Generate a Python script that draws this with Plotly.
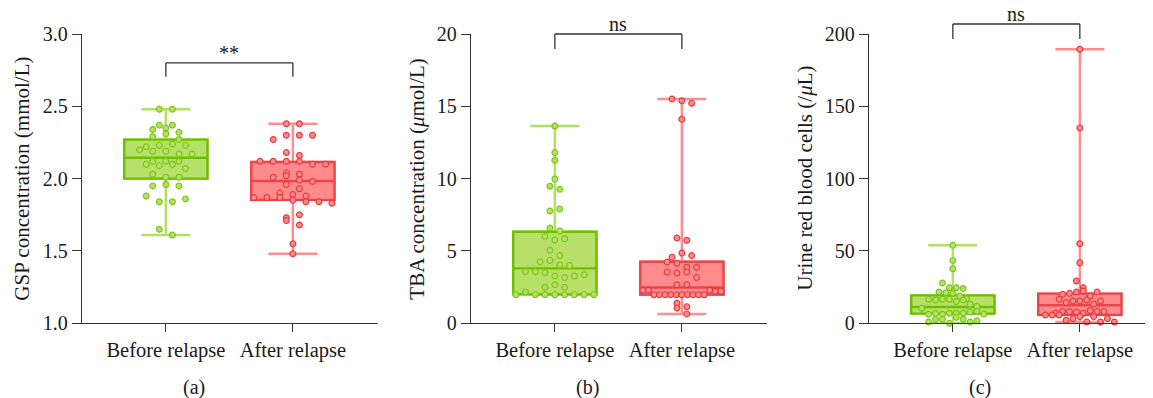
import numpy as np
import plotly.graph_objects as go

# ---------------- data ----------------
categories = ["Before relapse", "After relapse"]

gsp_before = [2.48, 2.48, 2.34, 2.35, 2.37, 2.37, 2.29, 2.31, 2.32, 2.27,
              2.20, 2.19, 2.22, 2.23, 2.24, 2.23, 2.19, 2.17, 2.17, 2.12,
              2.12, 2.12, 2.10, 2.09, 2.10, 2.07, 2.03, 2.01, 2.01, 1.95,
              1.96, 1.95, 1.88, 1.84, 1.84, 1.86, 1.65, 1.61]
gsp_after = [2.38, 2.38, 2.27, 2.30, 2.30, 2.30, 2.18, 2.16, 2.12, 2.12,
             2.12, 2.12, 2.10, 2.10, 2.04, 2.03, 2.01, 2.02, 1.99, 1.98,
             1.96, 1.93, 1.90, 1.89, 1.88, 1.87, 1.87, 1.87, 1.85, 1.84,
             1.84, 1.83, 1.73, 1.75, 1.71, 1.68, 1.55, 1.48]

tba_before = [13.64, 11.80, 11.27, 9.98, 9.47, 9.26, 7.76, 7.90, 6.59, 6.38,
              6.01, 5.76, 5.85, 5.05, 4.68, 4.26, 4.35, 4.03, 3.99, 3.57,
              3.57, 3.50, 3.27, 3.16, 3.27, 3.36, 2.49, 2.67, 2.49, 1.98,
              2.17, 1.98, 1.98, 1.98, 1.98, 1.98, 1.98, 1.98]
tba_after = [15.50, 15.39, 15.21, 14.10, 5.90, 5.74, 4.56, 4.86, 4.68, 4.24,
             4.15, 3.87, 3.87, 3.55, 3.48, 3.55, 3.16, 2.67, 2.67, 2.28,
             2.28, 1.98, 1.98, 1.98, 1.98, 1.98, 1.98, 1.98, 1.98, 1.98,
             1.98, 2.28, 2.21, 2.21, 1.38, 1.15, 1.06, 0.65]

rbc_before = [53.9, 43.5, 37.7, 27.8, 24.6, 24.6, 24.0, 21.6, 21.2, 20.7,
              18.9, 17.0, 16.6, 16.1, 16.6, 16.6, 15.0, 16.1, 13.1, 11.8,
              10.4, 6.2, 6.7, 6.2, 6.9, 6.9, 6.9, 7.8, 8.3, 6.4,
              0.9, 2.8, 2.8, 0.0, 4.1, 2.8, 0.9, 1.8]
rbc_after = [189.5, 135.1, 55.0, 41.9, 29.2, 24.6, 20.0, 20.7, 21.6, 22.3,
             18.9, 21.6, 16.6, 14.3, 15.4, 15.4, 16.1, 13.3, 15.4, 6.9,
             8.1, 5.7, 8.1, 7.8, 6.9, 8.8, 5.7, 8.1, 8.1, 5.7,
             2.1, 3.2, 4.6, 0.9, 4.6, 0.9, 3.2, 0.9]

# box statistics: [before, after]
gsp_q1, gsp_median, gsp_q3 = [2.00, 1.853], [2.145, 1.984], [2.27, 2.115]
tba_q1, tba_median, tba_q3 = [2.00, 1.98], [3.80, 2.48], [6.33, 4.26]
rbc_q1, rbc_median, rbc_q3 = [6.7, 5.8], [11.3, 12.5], [19.3, 20.5]

y_titles = ["GSP concentration (mmol/L)",
            "TBA concentration (<i>μ</i>mol/L)",
            "Urine red blood cells (/<i>μ</i>L)"]
y_ranges = [[1.0, 3.0], [0, 20], [0, 200]]
y_dticks = [0.5, 5, 50]
y_formats = [".1f", "", ""]
panel_labels = ["(a)", "(b)", "(c)"]
sig_labels = ["**", "ns", "ns"]
# bracket top / bracket leg end / label centre, in data units of each panel
bracket_top = [2.80, 20.0, 206.9]
bracket_leg = [2.705, 18.96, 196.5]
sig_text_y = [2.87, 20.7, 213.5]

# ---------------- styling / layout ----------------
PAGE_W, PAGE_H = 1153, 398
OFF = 8  # default body margin of the html page
W, H = PAGE_W - OFF, PAGE_H - OFF
FONT = "Liberation Serif"
TXT = "#1a1a1a"
AX = "#333333"
GREEN_FILL, GREEN_LINE, GREEN_WHISK, GREEN_PT = "#b6e06a", "#6fbf00", "#b2e062", "#7cc714"
RED_FILL, RED_LINE, RED_WHISK, RED_PT = "#ff8a8c", "#e5474b", "#ff8c90", "#e53b3f"


def px_x(p):
    return (p - OFF) / W


def px_y(p):
    return 1 - (p - OFF) / H


x_dom_px = [(82, 378), (471, 767), (869, 1153)]
y_top_px, y_bot_px = 34.0, 323.3
x_ranges = [[-0.66, 1.67], [-0.66, 1.67], [-0.66, 1.576]]
PX_PER_CAT = 127.0
ytitle_px = [22, 417, 805]
plabel_px = [194, 587, 980]

ydom = [px_y(y_bot_px), px_y(y_top_px)]

panels = [
    (gsp_before, gsp_after, gsp_q1, gsp_median, gsp_q3, 13.1),
    (tba_before, tba_after, tba_q1, tba_median, tba_q3, 9.8),
    (rbc_before, rbc_after, rbc_q1, rbc_median, rbc_q3, 6.9),
]


def swarm_offsets(values, px_per_unit_y, step_px, max_w_px=78.0, dot_px=7.0):
    v = np.asarray(values, float)
    order = np.argsort(v, kind="stable")
    h = dot_px / px_per_unit_y
    groups, cur = [], [order[0]]
    for idx in order[1:]:
        if v[idx] - v[cur[0]] < h:
            cur.append(idx)
        else:
            groups.append(cur)
            cur = [idx]
    groups.append(cur)
    off = np.zeros(len(v))
    for g in groups:
        g = sorted(g)
        n = len(g)
        s = step_px if n < 2 else min(step_px, max_w_px / (n - 1))
        for k, idx in enumerate(g):
            off[idx] = (k - (n - 1) / 2) * s
    return off / PX_PER_CAT


fig = go.Figure()
layout = dict(
    width=W, height=H,
    margin=dict(l=0, r=0, t=0, b=0),
    paper_bgcolor="white", plot_bgcolor="white",
    showlegend=False, boxmode="overlay",
    font=dict(family=FONT, size=20, color=TXT),
    template="none",
)
shapes, annotations = [], []

for i, (before, after, q1, med, q3, step) in enumerate(panels):
    n = "" if i == 0 else str(i + 1)
    xa, ya = "x" + n, "y" + n
    lo, hi = y_ranges[i]
    ppu = (y_bot_px - y_top_px) / (hi - lo)

    groups = [before, after]
    fills = [GREEN_FILL, RED_FILL]
    lines = [GREEN_LINE, RED_LINE]
    whisks = [GREEN_WHISK, RED_WHISK]
    pts = [GREEN_PT, RED_PT]

    for g in range(2):
        vals = groups[g]
        # whiskers (min to max), light colour
        fig.add_trace(go.Box(
            x=[g], q1=[q1[g]], median=[med[g]], q3=[q3[g]],
            lowerfence=[min(vals)], upperfence=[max(vals)],
            width=0.655, whiskerwidth=0.59, boxpoints=False,
            line=dict(color=whisks[g], width=2.5), fillcolor="rgba(0,0,0,0)",
            xaxis=xa, yaxis=ya, hoverinfo="skip"))
        # box, darker border
        fig.add_trace(go.Box(
            x=[g], q1=[q1[g]], median=[med[g]], q3=[q3[g]],
            lowerfence=[q1[g]], upperfence=[q3[g]],
            width=0.655, whiskerwidth=0, boxpoints=False,
            line=dict(color=lines[g], width=2.4), fillcolor=fills[g],
            xaxis=xa, yaxis=ya, hoverinfo="skip"))
        # points
        offs = swarm_offsets(vals, ppu, step)
        fig.add_trace(go.Scatter(
            x=g + offs, y=vals, mode="markers", cliponaxis=False,
            marker=dict(size=5.8, color=fills[g], line=dict(color=pts[g], width=1.2)),
            xaxis=xa, yaxis=ya, hoverinfo="skip"))

    x0p, x1p = x_dom_px[i]
    layout["xaxis" + n] = dict(
        domain=[px_x(x0p), min(1.0, px_x(x1p))], range=x_ranges[i], anchor=ya,
        tickmode="array", tickvals=[0, 1], ticktext=categories,
        ticks="outside", ticklen=8, tickwidth=1.3, tickcolor=AX,
        showline=True, linecolor=AX, linewidth=1.3, mirror=False,
        showgrid=False, zeroline=False, automargin=False,
        tickfont=dict(family=FONT, size=20.5, color=TXT), fixedrange=True)
    layout["yaxis" + n] = dict(
        domain=ydom, range=y_ranges[i], anchor=xa,
        tick0=lo, dtick=y_dticks[i], tickformat=y_formats[i],
        ticks="outside", ticklen=9, tickwidth=1.3, tickcolor=AX,
        showline=True, linecolor=AX, linewidth=1.3,
        showgrid=False, zeroline=False, automargin=False,
        tickfont=dict(family=FONT, size=20, color=TXT), fixedrange=True)

    def frac(v):
        return (v - lo) / (hi - lo)

    # significance bracket
    for (xa0, ya0, xa1, ya1) in [(0, bracket_leg[i], 0, bracket_top[i]),
                                 (0, bracket_top[i], 1, bracket_top[i]),
                                 (1, bracket_top[i], 1, bracket_leg[i])]:
        shapes.append(dict(type="line", xref=xa, yref=ya + " domain",
                           x0=xa0, x1=xa1, y0=frac(ya0), y1=frac(ya1),
                           line=dict(color=AX, width=1.3)))
    annotations.append(dict(
        xref=xa, yref="paper", x=0.5,
        y=ydom[0] + frac(sig_text_y[i]) * (ydom[1] - ydom[0]),
        text=sig_labels[i], showarrow=False, xanchor="center", yanchor="middle",
        borderpad=0,
        font=dict(family=FONT, size=20, color=TXT)))
    # y-axis title
    annotations.append(dict(
        xref="paper", yref="paper", x=px_x(ytitle_px[i]),
        y=(ydom[0] + ydom[1]) / 2, text=y_titles[i], textangle=-90,
        showarrow=False, xanchor="center", yanchor="middle",
        font=dict(family=FONT, size=21, color=TXT)))
    # panel label
    annotations.append(dict(
        xref="paper", yref="paper", x=px_x(plabel_px[i]), y=px_y(387),
        text=panel_labels[i], showarrow=False, xanchor="center", yanchor="middle",
        font=dict(family=FONT, size=20, color=TXT)))

layout["shapes"] = shapes
layout["annotations"] = annotations
fig.update_layout(**layout)
fig.write_html("out.html")
